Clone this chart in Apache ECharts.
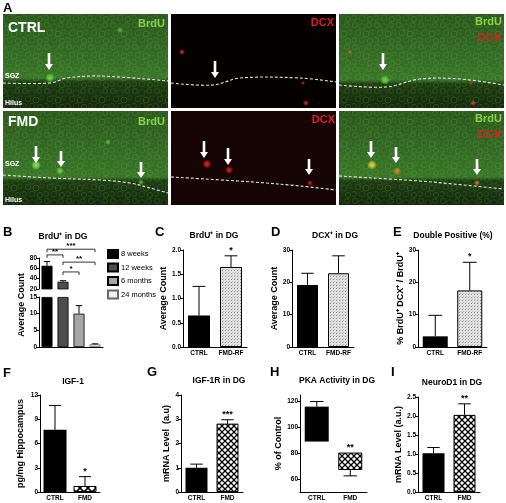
<!DOCTYPE html>
<html>
<head>
<meta charset="utf-8">
<script src="https://cdn.jsdelivr.net/npm/echarts@6/dist/echarts.min.js"></script>
<style>
html, body { margin: 0; padding: 0; background: #fff; }
#main { width: 506px; height: 503px; }
</style>
</head>
<body>
<div id="main"></div>
<script>
// ---- data ----
var bAges = ['8 weeks', '12 weeks', '6 months', '24 months'];
var bMean = [65, 34, 10, 0.8];
var bErr = [73, 36, 12.4, 0.95];          // upper end of the error bar
var bColors = ['#000', '#4d4d4d', '#a6a6a6', '#f2f2f2'];
var bSig = [[0, 3, 97, '***'], [0, 1, 86, '**'], [1, 3, 72, '**'], [1, 2, 53, '*']];

var groupsRF = ['CTRL', 'FMD-RF'];
var groups = ['CTRL', 'FMD'];

var cMean = [0.65, 1.65], cErr = [1.25, 1.88], cStar = ['', '*'];
var dMean = [19.2, 22.8], dErr = [22.8, 28.2], dStar = ['', ''];
var eMean = [3.3, 17.5], eErr = [9.8, 26.2], eStar = ['', '*'];
var fMean = [7.7, 0.75], fErr = [10.7, 1.9], fStar = ['', '*'];
var gMean = [1.0, 2.82], gErr = [1.15, 2.98], gStar = ['', '***'];
var hLow = [89, 67], hHigh = [116, 80.5], hWhisker = [120, 62.5], hStar = ['', '**'];
var hTicks = [60, 80, 100, 120];
var iMean = [1.02, 2.03], iErr = [1.17, 2.32], iStar = ['', '**'];

var FONT = '"Liberation Sans", Arial, sans-serif';
var LG = echarts.graphic.LinearGradient;
var RG = echarts.graphic.RadialGradient;

// ---- fill patterns ----
function makePattern(size, draw) {
	var c = document.createElement('canvas');
	c.width = c.height = size;
	draw(c.getContext('2d'), size);
	return { image: c, repeat: 'repeat' };
}

var dotFill = makePattern(3, function (ctx) {
	ctx.fillStyle = '#e2e2e2'; ctx.fillRect(0, 0, 3, 3);
	ctx.fillStyle = '#8c8c8c'; ctx.fillRect(0, 0, 1, 1);
	ctx.fillStyle = '#bdbdbd'; ctx.fillRect(1, 2, 1, 1);
});

function crossHatch(size, lw) {
	return makePattern(size, function (ctx, s) {
		ctx.fillStyle = '#fff'; ctx.fillRect(0, 0, s, s);
		ctx.strokeStyle = '#000'; ctx.lineWidth = lw;
		ctx.beginPath();
		ctx.moveTo(-1, -1); ctx.lineTo(s + 1, s + 1);
		ctx.moveTo(-1, s + 1); ctx.lineTo(s + 1, -1);
		ctx.stroke();
	});
}
var hatchBig = crossHatch(8, 1.6);
var hatchSmall = crossHatch(6, 1.3);

// cell-like texture for the green images
var cellTex = makePattern(22, function (ctx) {
	ctx.lineWidth = 1;
	[[3, 3, 2.6, 0.3], [10, 5, 3.2, 0.22], [17, 3, 2.4, 0.3], [6, 11, 2.8, 0.25], [14, 12, 3, 0.32],
	 [20, 10, 2.2, 0.2], [2, 18, 2.5, 0.28], [10, 18, 2.9, 0.2], [18, 19, 2.6, 0.3]].forEach(function (c) {
		ctx.strokeStyle = 'rgba(150,225,100,' + c[3] + ')';
		ctx.beginPath(); ctx.arc(c[0], c[1], c[2], 0, Math.PI * 2); ctx.stroke();
	});
});

// ---- helpers for axes and series ----
function yAxis(idx, min, max, step, name, gap, fmt) {
	return {
		type: 'value', gridIndex: idx, min: min, max: max, interval: step,
		name: name || '', nameLocation: 'middle', nameGap: gap || 10,
		nameTextStyle: { fontSize: 9, fontWeight: 'bold', color: '#000', fontFamily: FONT },
		axisLine: { show: true, lineStyle: { color: '#000', width: 1 } },
		axisTick: { show: true, length: 3, lineStyle: { color: '#000' } },
		axisLabel: { fontSize: 6.5, fontWeight: 'bold', color: '#000', margin: 2, fontFamily: FONT, formatter: fmt },
		splitLine: { show: false }
	};
}

function xAxis(idx, cats, showLabel) {
	return {
		type: 'category', gridIndex: idx, data: cats,
		axisLine: { show: true, lineStyle: { color: '#000', width: 1 } },
		axisTick: { show: false },
		axisLabel: { show: showLabel, interval: 0, fontSize: 6.5, fontWeight: 'bold', color: '#000', margin: 3, fontFamily: FONT }
	};
}

function fixed1(v) { return v.toFixed(1); }

// error bars (upper only) + significance stars
function errSeries(ax, items, stars) {
	return {
		type: 'custom', xAxisIndex: ax, yAxisIndex: ax, z: 5, silent: true,
		data: items,
		renderItem: function (params, api) {
			var i = api.value(0);
			var p0 = api.coord([i, api.value(1)]);
			var p1 = api.coord([i, api.value(2)]);
			var half = api.size([1, 0])[0] * 0.2;
			var kids = [
				{ type: 'line', shape: { x1: p0[0], y1: p0[1], x2: p1[0], y2: p1[1] }, style: { stroke: '#000', lineWidth: 1 } },
				{ type: 'line', shape: { x1: p1[0] - half, y1: p1[1], x2: p1[0] + half, y2: p1[1] }, style: { stroke: '#000', lineWidth: 1 } }
			];
			var s = stars ? stars[i] : '';
			if (s) {
				kids.push({ type: 'text', x: p1[0], y: p1[1] - 1,
					style: { text: s, textAlign: 'center', textVerticalAlign: 'bottom', font: 'bold 9px ' + FONT, fill: '#000' } });
			}
			return { type: 'group', children: kids };
		}
	};
}

function pairItems(mean, err) {
	return mean.map(function (m, i) { return [i, m, err[i]]; });
}

function barPair(ax, mean, width, fill) {
	return {
		type: 'bar', xAxisIndex: ax, yAxisIndex: ax, barWidth: width,
		data: mean.map(function (v, i) {
			return { value: v, itemStyle: i ? { color: fill, borderColor: '#000', borderWidth: 1 } : { color: '#000' } };
		})
	};
}

// ---- panel B (broken axis: two grids) ----
var series = [];
bAges.forEach(function (age, i) {
	var style = { color: bColors[i], borderColor: i === 3 ? '#666' : '#000', borderWidth: 0.8 };
	series.push({
		name: age, type: 'bar', xAxisIndex: 0, yAxisIndex: 0, stack: 'bt', barWidth: 11, itemStyle: style,
		data: bAges.map(function (a, j) { return j === i && bMean[i] > 20 ? bMean[i] : '-'; })
	});
	series.push({
		name: age, type: 'bar', xAxisIndex: 1, yAxisIndex: 1, stack: 'bb', barWidth: 11, itemStyle: style,
		data: bAges.map(function (a, j) { return j === i ? Math.min(bMean[i], 15) : '-'; })
	});
});
var bItems = pairItems(bMean, bErr);
series.push(errSeries(0, bItems.filter(function (d) { return d[2] > 15; })));
series.push(errSeries(1, bItems.filter(function (d) { return d[2] <= 15; })));
series.push({
	type: 'custom', xAxisIndex: 0, yAxisIndex: 0, z: 5, silent: true,
	data: bSig.map(function (s) { return [s[0], s[1], s[2]]; }),
	renderItem: function (params, api) {
		var a = api.coord([api.value(0), api.value(2)]);
		var b = api.coord([api.value(1), api.value(2)]);
		return { type: 'group', children: [
			{ type: 'polyline', shape: { points: [[a[0], a[1] + 3], a, b, [b[0], b[1] + 3]] },
				style: { stroke: '#000', lineWidth: 0.8, fill: 'none' } },
			{ type: 'text', x: (a[0] + b[0]) / 2, y: a[1] + 0.5,
				style: { text: bSig[params.dataIndex][3], textAlign: 'center', textVerticalAlign: 'bottom', font: 'bold 8px ' + FONT, fill: '#000' } }
		] };
	}
});

// ---- panels C-I ----
series.push(barPair(2, cMean, 22, dotFill), errSeries(2, pairItems(cMean, cErr), cStar));
series.push(barPair(3, dMean, 21, dotFill), errSeries(3, pairItems(dMean, dErr), dStar));
series.push(barPair(4, eMean, 25, dotFill), errSeries(4, pairItems(eMean, eErr), eStar));
series.push(barPair(5, fMean, 23, hatchBig), errSeries(5, pairItems(fMean, fErr), fStar));
series.push(barPair(6, gMean, 22, hatchSmall), errSeries(6, pairItems(gMean, gErr), gStar));
series.push({
	type: 'bar', xAxisIndex: 7, yAxisIndex: 7, stack: 'h', barWidth: 24,
	itemStyle: { color: 'transparent' }, data: hLow
});
series.push({
	type: 'bar', xAxisIndex: 7, yAxisIndex: 7, stack: 'h', barWidth: 24,
	label: { show: true, position: 'top', distance: 1, fontSize: 9, fontWeight: 'bold', color: '#000', fontFamily: FONT,
		formatter: function (p) { return hStar[p.dataIndex]; } },
	data: hHigh.map(function (v, i) {
		return { value: v - hLow[i], itemStyle: i ? { color: hatchSmall, borderColor: '#000', borderWidth: 1 } : { color: '#000' } };
	})
});
series.push(errSeries(7, [[0, hHigh[0], hWhisker[0]], [1, hLow[1], hWhisker[1]]]));
series.push(barPair(8, iMean, 22, hatchSmall), errSeries(8, pairItems(iMean, iErr), iStar));

// ---- microscopy panels (panel A) ----
function text(x, y, str, font, fill, align, rot) {
	return { type: 'text', x: x, y: y, rotation: rot || 0,
		style: { text: str, font: font, fill: fill, textAlign: align || 'left', textVerticalAlign: 'middle' } };
}
function spot(x, y, r, rgb) {
	return { type: 'circle', shape: { cx: x, cy: y, r: r },
		style: { fill: new RG(0.5, 0.5, 0.5, [
			{ offset: 0, color: 'rgba(' + rgb + ',1)' }, { offset: 0.5, color: 'rgba(' + rgb + ',0.6)' }, { offset: 1, color: 'rgba(' + rgb + ',0)' }]) } };
}
function arrow(x, y0, y1) {
	return { type: 'polygon', shape: { points: [[x - 1.3, y0], [x + 1.3, y0], [x + 1.3, y1 - 6], [x + 4, y1 - 6], [x, y1], [x - 4, y1 - 6], [x - 1.3, y1 - 6]] },
		style: { fill: '#fff' } };
}
function dashed(points) {
	return { type: 'polyline', shape: { points: points, smooth: 0.35 },
		style: { stroke: '#e6e6e6', lineWidth: 1.1, lineDash: [3, 2], fill: null } };
}
function greenBox(x, y, split) {
	return [
		{ type: 'rect', shape: { x: x, y: y, width: 165, height: 94 },
			style: { fill: new LG(0, 0, 0, 1, [
				{ offset: 0, color: '#2a581d' }, { offset: 0.5, color: '#356d26' },
				{ offset: split - 0.04, color: '#3a7629' }, { offset: split, color: '#1d3d13' },
				{ offset: 1, color: '#13290c' }]) } },
		{ type: 'rect', shape: { x: x, y: y, width: 165, height: 94 }, style: { fill: cellTex, opacity: 0.55 } }
	];
}
function redBox(x, y, color) {
	return [{ type: 'rect', shape: { x: x, y: y, width: 165, height: 94 }, style: { fill: color } }];
}

var GREEN = '#8ad24e', RED = '#dc2020';
var BIG = 'bold 14px ' + FONT, MID = 'bold 11px ' + FONT, SMALL = 'bold 7px ' + FONT;
var LETTER = 'bold 13px ' + FONT, TITLE = 'bold 8.5px ' + FONT;

var art = [].concat(
	greenBox(3, 14, 0.72), redBox(171, 14, '#060101'), greenBox(339, 14, 0.74),
	greenBox(3, 111, 0.74), redBox(171, 111, '#170505'), greenBox(339, 111, 0.74),
	[
		// top row
		spot(50, 78, 5, '110,225,70'), spot(120, 30, 3, '90,190,60'),
		spot(182, 52, 3, '230,40,40'), spot(303, 83, 2.2, '200,30,30'), spot(306, 103, 3, '230,40,40'),
		spot(385, 80, 5, '110,225,70'), spot(350, 52, 2.5, '230,90,40'), spot(471, 83, 2.2, '220,50,30'), spot(473, 103, 3, '230,60,40'),
		// bottom row
		spot(36, 165, 5, '130,245,80'), spot(60, 171, 4, '110,220,70'), spot(141, 182, 3, '90,190,60'), spot(108, 142, 3, '90,200,60'),
		spot(207, 164, 4.5, '255,30,30'), spot(229, 170, 4, '240,30,30'), spot(310, 183, 3, '200,30,30'),
		spot(372, 165, 5, '240,220,60'), spot(397, 171, 4, '240,130,40'), spot(477, 183, 3, '230,120,40'),
		dashed([[3, 83], [50, 83], [67, 78], [100, 76], [168, 81]]),
		dashed([[171, 83], [213, 85], [240, 78], [300, 78], [336, 82]]),
		dashed([[339, 85], [386, 87], [420, 79], [460, 79], [504, 85]]),
		dashed([[3, 175], [50, 178], [100, 180], [130, 183], [150, 188], [168, 193]]),
		dashed([[171, 177], [253, 182], [300, 186], [336, 190]]),
		dashed([[339, 176], [420, 181], [453, 184], [504, 189]]),
		arrow(49, 53, 70), arrow(215, 61, 78), arrow(383, 53, 70),
		arrow(36, 146, 163), arrow(61, 151, 167), arrow(141, 162, 178),
		arrow(204, 141, 158), arrow(228, 148, 165), arrow(309, 159, 175),
		arrow(371, 141, 158), arrow(396, 147, 163), arrow(477, 159, 175),
		text(8, 28, 'CTRL', BIG, '#fff'), text(8, 122, 'FMD', BIG, '#fff'),
		text(165, 24, 'BrdU', MID, GREEN, 'right'), text(165, 122, 'BrdU', MID, GREEN, 'right'),
		text(5, 76, 'SGZ', SMALL, '#fff'), text(5, 103, 'Hilus', SMALL, '#fff'),
		text(5, 164, 'SGZ', SMALL, '#fff'), text(5, 200, 'Hilus', SMALL, '#fff'),
		text(334, 23, 'DCX', MID, RED, 'right'), text(335, 120, 'DCX', MID, RED, 'right'),
		text(502, 22, 'BrdU', MID, GREEN, 'right'), text(501, 38, 'DCX', MID, RED, 'right'),
		text(502, 119, 'BrdU', MID, GREEN, 'right'), text(501, 135, 'DCX', MID, RED, 'right'),
		// panel letters and titles
		text(3, 8, 'A', LETTER, '#000'),
		text(3, 232, 'B', LETTER, '#000'), text(155, 232, 'C', LETTER, '#000'),
		text(271, 232, 'D', LETTER, '#000'), text(393, 232, 'E', LETTER, '#000'),
		text(3, 373, 'F', LETTER, '#000'), text(147, 372, 'G', LETTER, '#000'),
		text(270, 372, 'H', LETTER, '#000'), text(391, 372, 'I', LETTER, '#000'),
		text(63, 237, 'BrdU⁺ in DG', TITLE, '#000', 'center'),
		text(214, 236, 'BrdU⁺ in DG', TITLE, '#000', 'center'),
		text(335, 236, 'DCX⁺ in DG', TITLE, '#000', 'center'),
		text(453, 236, 'Double Positive (%)', TITLE, '#000', 'center'),
		text(73, 382, 'IGF-1', TITLE, '#000', 'center'),
		text(219, 381, 'IGF-1R in DG', TITLE, '#000', 'center'),
		text(337, 381, 'PKA Activity in DG', TITLE, '#000', 'center'),
		text(452, 383, 'NeuroD1 in DG', TITLE, '#000', 'center'),
		text(22, 305, 'Average Count', 'bold 9px ' + FONT, '#000', 'center', Math.PI / 2)
	]
);

var gridBox = [
	[39, 258, 64, 31], [39, 297, 64, 50],
	[183, 250, 64, 97], [292, 250, 62, 97], [418, 250, 69, 97],
	[40, 395, 60, 97], [181, 395, 62, 97], [300, 395, 67, 97], [418, 397, 62, 95]
];

var hAxis = yAxis(7, 50, 125, null, '% of Control', 14);
hAxis.axisLabel.customValues = hTicks;
hAxis.axisTick.customValues = hTicks;

var chart = echarts.init(document.getElementById('main'), null, { renderer: 'canvas' });
chart.setOption({
	animation: false,
	backgroundColor: '#fff',
	textStyle: { fontFamily: FONT },
	grid: gridBox.map(function (g) {
		return { left: g[0], top: g[1], width: g[2], height: g[3], containLabel: false, outerBoundsMode: 'none' };
	}),
	legend: {
		data: bAges, orient: 'vertical', left: 102, top: 244, icon: 'rect',
		itemWidth: 10, itemHeight: 8, itemGap: 3.5, selectedMode: false,
		textStyle: { fontSize: 7.5, color: '#000', fontFamily: FONT, padding: [0, 0, 0, -2] }
	},
	xAxis: [
		{ type: 'category', gridIndex: 0, data: bAges, show: false },
		xAxis(1, bAges, false),
		xAxis(2, groupsRF, true), xAxis(3, groupsRF, true), xAxis(4, groupsRF, true),
		xAxis(5, groups, true), xAxis(6, groups, true), xAxis(7, groups, true), xAxis(8, groups, true)
	],
	yAxis: [
		yAxis(0, 20, 80, 20),
		yAxis(1, 0, 15, 5),
		yAxis(2, 0, 2, 0.5, 'Average Count', 15, fixed1),
		yAxis(3, 0, 30, 10, 'Average Count', 12),
		yAxis(4, 0, 30, 10, '% BrdU⁺ DCX⁺ / BrdU⁺', 8),
		yAxis(5, 0, 12, 3, 'pg/mg Hippocampus', 15),
		yAxis(6, 0, 4, 1, 'mRNA Level  (a.u)', 8),
		hAxis,
		yAxis(8, 0, 2.5, 0.5, 'mRNA Level (a.u.)', 10, fixed1)
	],
	graphic: { elements: art },
	series: series
});
</script>
</body>
</html>
